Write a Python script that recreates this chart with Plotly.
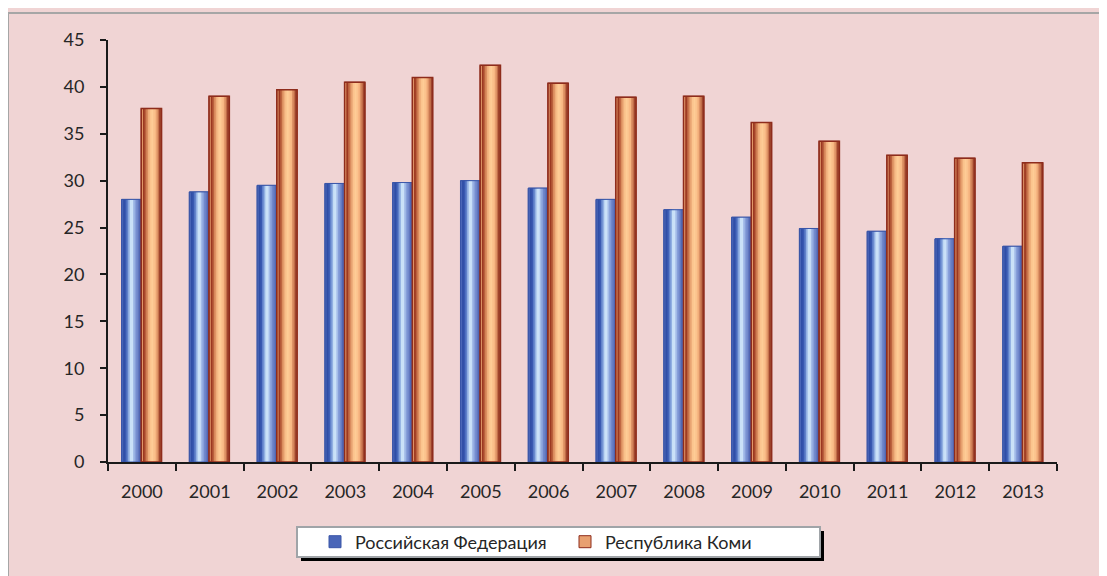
import plotly.graph_objects as go

years = ["2000", "2001", "2002", "2003", "2004", "2005", "2006",
         "2007", "2008", "2009", "2010", "2011", "2012", "2013"]
rf_values = [28.0, 28.8, 29.5, 29.7, 29.8, 30.0, 29.2,
             28.0, 26.9, 26.1, 24.9, 24.6, 23.8, 23.0]
komi_values = [37.7, 39.0, 39.7, 40.5, 41.0, 42.3, 40.4,
               38.9, 39.0, 36.2, 34.2, 32.7, 32.4, 31.9]
series_names = ["Российская Федерация", "Республика Коми"]

FONT = "Lato"
TEXT = "#262626"
BG = "#F0D4D4"

# page body adds an 8px offset; positions below are in screenshot pixels
OFF = 8
W, H = 1107, 576
L, T = 108 - OFF, 40 - OFF
R = W - (1057 - OFF)
B = H - (462 - OFF)
PW, PH = W - L - R, H - T - B


def px_to_paper(x, y):
    return (x - OFF - L) / PW, (H - B - (y - OFF)) / PH


def hex2rgb(h):
    h = h.lstrip("#")
    return tuple(int(h[i:i + 2], 16) for i in (0, 2, 4))


def grad(stops, t):
    for (p0, c0), (p1, c1) in zip(stops, stops[1:]):
        if p0 <= t <= p1:
            f = (t - p0) / (p1 - p0) if p1 > p0 else 0
            a, b = hex2rgb(c0), hex2rgb(c1)
            return "rgb(%d,%d,%d)" % tuple(round(a[k] + (b[k] - a[k]) * f) for k in range(3))
    return stops[-1][1]


blue_stops = [(0, "#27439A"), (0.2, "#3555AE"), (0.33, "#7294D6"), (0.45, "#C8E0F7"),
              (0.53, "#D0E6FA"), (0.66, "#94ACE2"), (0.82, "#6A80C6"), (1.0, "#4A5EAC")]
orange_stops = [(0, "#8A2A18"), (0.14, "#9E3A22"), (0.28, "#D7875A"), (0.42, "#FAC08A"),
                (0.56, "#FFCE98"), (0.72, "#F6B480"), (0.86, "#C6724C"), (1.0, "#8E3220")]

fig = go.Figure()

N = 12
specs = [
    (series_names[0], rf_values, -0.30, 0.29, blue_stops, "#4A66B8", "#3A56A8", 1),
    (series_names[1], komi_values, -0.01, 0.30, orange_stops, "#E8A070", "#8E2C1C", 1.5),
]
for name, vals, off, wid, stops, legcol, linecol, lw in specs:
    for i in range(N):
        t = (i + 0.5) / N
        fig.add_trace(go.Bar(
            x=years, y=vals, name=name,
            offset=off + i * wid / N, width=wid * (1 - i / N),
            marker=dict(color=grad(stops, t) if i > 0 else legcol,
                        line=dict(width=1 if i == 0 else 0, color=linecol)),
            showlegend=(i == 0), legendgroup=name, hoverinfo="skip",
        ))
    # outline
    fig.add_trace(go.Bar(
        x=years, y=vals, name=name, offset=off, width=wid,
        marker=dict(color="rgba(0,0,0,0)", line=dict(width=lw, color=linecol)),
        showlegend=False, legendgroup=name, hoverinfo="skip",
    ))

shapes = []
# outer gray frame
x0, y1 = px_to_paper(8, 13)
x1, y0 = px_to_paper(1140, 610)
shapes.append(dict(type="rect", xref="paper", yref="paper", x0=x0, y0=y0, x1=x1, y1=y1,
                   line=dict(color="#A6A6A6", width=2), fillcolor="rgba(0,0,0,0)", layer="below"))
# legend shadow and box
sx0, sy1 = px_to_paper(301, 531)
sx1, sy0 = px_to_paper(824, 561)
shapes.append(dict(type="rect", xref="paper", yref="paper", x0=sx0, y0=sy0, x1=sx1, y1=sy1,
                   line=dict(width=0), fillcolor="#000000", layer="above"))
bx0, by1 = px_to_paper(297, 527)
bx1, by0 = px_to_paper(820, 557)
shapes.append(dict(type="rect", xref="paper", yref="paper", x0=bx0, y0=by0, x1=bx1, y1=by1,
                   line=dict(width=2, color="#A0A4A8"), fillcolor="#FFFFFF", layer="above"))

fig.update_layout(
    width=W, height=H,
    margin=dict(l=L, r=R, t=T, b=B),
    paper_bgcolor=BG, plot_bgcolor=BG,
    barmode="overlay",
    font=dict(family=FONT, size=18, color=TEXT),
    shapes=shapes,
    showlegend=True,
    legend=dict(
        orientation="h", xref="container", yref="container",
        x=(315 - OFF) / W, y=1 - (542 - OFF) / H, xanchor="left", yanchor="middle",
        bgcolor="rgba(0,0,0,0)", borderwidth=0,
        entrywidth=205, entrywidthmode="pixels",
        font=dict(family=FONT, size=18, color=TEXT),
        itemclick=False, itemdoubleclick=False,
    ),
    xaxis=dict(
        type="category", showline=True, linecolor="#1A1A1A", linewidth=2,
        ticks="outside", ticklen=7, tickwidth=1.5, tickcolor="#1A1A1A",
        tickson="boundaries", showgrid=False, zeroline=False,
        ticklabelstandoff=12,
        tickfont=dict(family=FONT, size=18, color=TEXT),
    ),
    yaxis=dict(
        range=[0, 45], dtick=5, showline=True, linecolor="#1A1A1A", linewidth=2,
        ticks="outside", ticklen=6, tickwidth=1.5, tickcolor="#1A1A1A",
        showgrid=False, zeroline=False, ticklabelstandoff=12,
        tickfont=dict(family=FONT, size=18, color=TEXT),
    ),
)

fig.write_html("out.html")
